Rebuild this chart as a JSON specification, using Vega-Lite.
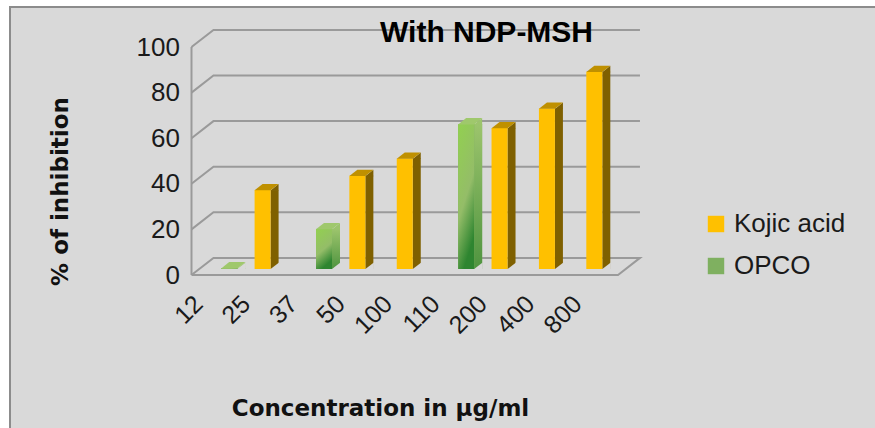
{"$schema":"https://vega.github.io/schema/vega-lite/v6.json","width":868,"height":424,"autosize":"none","padding":{"left":10,"top":7,"right":0,"bottom":0},"background":"#ffffff",
"config":{"font":"Liberation Sans","view":{"fill":"#d9d9d9","stroke":"#8c8c8c","strokeWidth":2}},
"title":{"text":"With NDP-MSH","anchor":"start","frame":"group","offset":-41,"dx":370,"fontSize":30,"fontWeight":"bold","color":"#000000","font":"Liberation Sans"},
"datasets":{
"frame":[
{"id":"g0","px":0,"py":0,"idx":0},{"id":"g0","px":5.15,"py":7.5,"idx":1},{"id":"g0","px":105.15,"py":7.5,"idx":2},{"id":"g0","px":100,"py":0,"idx":3},{"id":"g0","px":0,"py":0,"idx":4},
{"id":"g20","px":0,"py":20,"idx":0},{"id":"g20","px":5.15,"py":27.5,"idx":1},{"id":"g20","px":105.15,"py":27.5,"idx":2},
{"id":"g40","px":0,"py":40,"idx":0},{"id":"g40","px":5.15,"py":47.5,"idx":1},{"id":"g40","px":105.15,"py":47.5,"idx":2},
{"id":"g60","px":0,"py":60,"idx":0},{"id":"g60","px":5.15,"py":67.5,"idx":1},{"id":"g60","px":105.15,"py":67.5,"idx":2},
{"id":"g80","px":0,"py":80,"idx":0},{"id":"g80","px":5.15,"py":87.5,"idx":1},{"id":"g80","px":105.15,"py":87.5,"idx":2},
{"id":"g100","px":0,"py":100,"idx":0},{"id":"g100","px":5.15,"py":107.5,"idx":1},{"id":"g100","px":105.15,"py":107.5,"idx":2},
{"id":"axis","px":0,"py":0,"idx":0},{"id":"axis","px":0,"py":100,"idx":1}],
"bars":[
{"conc":"12","series":"OPCO","value":0.4},
{"conc":"25","series":"Kojic acid","value":34.7},
{"conc":"37","series":"OPCO","value":17.6},
{"conc":"50","series":"Kojic acid","value":41},
{"conc":"100","series":"Kojic acid","value":48.6},
{"conc":"110","series":"OPCO","value":63.7},
{"conc":"200","series":"Kojic acid","value":62},
{"conc":"400","series":"Kojic acid","value":70.6},
{"conc":"800","series":"Kojic acid","value":86.7}]},
"layer":[
{"data":{"name":"frame"},"mark":{"type":"line","color":"#9a9a9a","strokeWidth":2},
"encoding":{"x":{"field":"px","type":"quantitative","sort":null,"scale":{"domain":[0,100],"range":[181.5,608],"nice":false,"zero":false},"axis":null},
"y":{"field":"py","type":"quantitative","scale":{"domain":[0,100],"range":[268,40],"nice":false},
"axis":{"orient":"left","offset":-181.5,"values":[0,20,40,60,80,100],"grid":false,"domain":false,"ticks":false,"labelPadding":12,"labelFontSize":26,"labelColor":"#1a1a1a","labelFont":"Liberation Sans","title":"% of inhibition","titleFontSize":23,"titleFontWeight":"bold","titleColor":"#111111","titleFont":"DejaVu Sans","titleX":-131,"titleY":184,"titleAngle":-90,"titleAlign":"center","titleBaseline":"middle"}},
"detail":{"field":"id"},"order":{"field":"idx"}}},
{"data":{"name":"bars"},"mark":{"type":"bar","width":8},
"encoding":{"x":{"field":"conc","type":"nominal","sort":null,"scale":{"domain":["12","25","37","50","100","110","200","400","800"],"range":[181.5,608],"paddingInner":0,"paddingOuter":0},
"axis":{"orient":"bottom","offset":-140,"labelAngle":-45,"labelAlign":"right","labelBaseline":"top","labelOffset":-25,"domain":false,"ticks":false,"labelPadding":0,"labelFontSize":25,"labelColor":"#1a1a1a","labelFont":"Liberation Sans","title":"Concentration in µg/ml","titleFontSize":23,"titleFontWeight":"bold","titleColor":"#111111","titleFont":"DejaVu Sans","titleX":370,"titleY":117,"titleAlign":"center","titleBaseline":"middle"}},
"xOffset":{"field":"series","type":"nominal","scale":{"type":"point","padding":0,"domain":["Kojic acid","OPCO"],"range":[35.7,49.7]}},
"y":{"field":"value","type":"quantitative","scale":{"domain":[0,100],"range":[262,34.5],"nice":false},"axis":null},
"color":{"field":"series","type":"nominal","legend":null,"scale":{"domain":["Kojic acid","OPCO"],"range":["#7f6000","#7fb060"]}}}},
{"data":{"name":"bars"},"mark":{"type":"point","filled":true,"opacity":1,"size":4,"strokeWidth":0,"shape":"M8,0.5L16,-6L16,0.5Z"},
"encoding":{"x":{"field":"conc","type":"nominal","sort":null,"scale":{"domain":["12","25","37","50","100","110","200","400","800"],"range":[181.5,608],"paddingInner":0,"paddingOuter":0},"axis":null},
"xOffset":{"field":"series","type":"nominal","scale":{"type":"point","padding":0,"domain":["Kojic acid","OPCO"],"range":[23.7,37.7]}},
"y":{"field":"value","type":"quantitative","scale":{"domain":[0,100],"range":[262,34.5],"nice":false},"axis":null},
"color":{"field":"series","type":"nominal","legend":null,"scale":{"domain":["Kojic acid","OPCO"],"range":["#7f6000","#9cc46c"]}}}},
{"data":{"name":"bars"},"transform":[{"filter":"datum.series==='OPCO'"}],"mark":{"type":"bar","width":8,"color":{"gradient":"linear","x1":0,"y1":0,"x2":0,"y2":1,"stops":[{"offset":0,"color":"#9cc46c"},{"offset":1,"color":"#4f9440"}]}},
"encoding":{"x":{"field":"conc","type":"nominal","sort":null,"scale":{"domain":["12","25","37","50","100","110","200","400","800"],"range":[181.5,608],"paddingInner":0,"paddingOuter":0},"axis":null},
"xOffset":{"field":"series","type":"nominal","scale":{"type":"point","padding":0,"domain":["Kojic acid","OPCO"],"range":[35.7,49.7]}},
"y":{"field":"value","type":"quantitative","scale":{"domain":[0,100],"range":[262,34.5],"nice":false},"axis":null}}},
{"data":{"name":"bars"},"mark":{"type":"point","filled":true,"opacity":1,"size":4,"strokeWidth":0,"color":"#d9d9d9","shape":"M8,0L16.5,-6.4L16.5,1L8,1Z"},
"encoding":{"x":{"field":"conc","type":"nominal","sort":null,"scale":{"domain":["12","25","37","50","100","110","200","400","800"],"range":[181.5,608],"paddingInner":0,"paddingOuter":0},"axis":null},
"xOffset":{"field":"series","type":"nominal","scale":{"type":"point","padding":0,"domain":["Kojic acid","OPCO"],"range":[23.7,37.7]}},
"y":{"datum":0,"type":"quantitative","scale":{"domain":[0,100],"range":[262,34.5],"nice":false},"axis":null}}},
{"data":{"name":"bars"},"mark":{"type":"bar","width":16},
"encoding":{"x":{"field":"conc","type":"nominal","sort":null,"scale":{"domain":["12","25","37","50","100","110","200","400","800"],"range":[181.5,608],"paddingInner":0,"paddingOuter":0},"axis":null},
"xOffset":{"field":"series","type":"nominal","scale":{"type":"point","padding":0,"domain":["Kojic acid","OPCO"],"range":[23.7,37.7]}},
"y":{"field":"value","type":"quantitative","scale":{"domain":[0,100],"range":[262,34.5],"nice":false},"axis":null},
"color":{"field":"series","type":"nominal","scale":{"domain":["Kojic acid","OPCO"],"range":["#FFC000","#7fb060"]},
"legend":{"orient":"none","legendX":693,"legendY":204,"title":null,"symbolType":"square","symbolSize":270,"symbolStrokeWidth":0,"labelFontSize":26,"labelColor":"#1a1a1a","labelFont":"Liberation Sans","rowPadding":16,"labelOffset":5}}}},
{"data":{"name":"bars"},"transform":[{"filter":"datum.series==='OPCO'"}],"mark":{"type":"bar","width":16,"color":{"gradient":"linear","x1":0,"y1":0,"x2":0.35,"y2":1,"stops":[{"offset":0,"color":"#92D050"},{"offset":0.6,"color":"#94bd68"},{"offset":1,"color":"#2e8530"}]}},
"encoding":{"x":{"field":"conc","type":"nominal","sort":null,"scale":{"domain":["12","25","37","50","100","110","200","400","800"],"range":[181.5,608],"paddingInner":0,"paddingOuter":0},"axis":null},
"xOffset":{"field":"series","type":"nominal","scale":{"type":"point","padding":0,"domain":["Kojic acid","OPCO"],"range":[23.7,37.7]}},
"y":{"field":"value","type":"quantitative","scale":{"domain":[0,100],"range":[262,34.5],"nice":false},"axis":null}}},
{"data":{"name":"bars"},"mark":{"type":"point","filled":true,"opacity":1,"size":4,"strokeWidth":0,"shape":"M-8,0.3L8,0.3L16,-6L0,-6Z"},
"encoding":{"x":{"field":"conc","type":"nominal","sort":null,"scale":{"domain":["12","25","37","50","100","110","200","400","800"],"range":[181.5,608],"paddingInner":0,"paddingOuter":0},"axis":null},
"xOffset":{"field":"series","type":"nominal","scale":{"type":"point","padding":0,"domain":["Kojic acid","OPCO"],"range":[23.7,37.7]}},
"y":{"field":"value","type":"quantitative","scale":{"domain":[0,100],"range":[262,34.5],"nice":false},"axis":null},
"color":{"field":"series","type":"nominal","legend":null,"scale":{"domain":["Kojic acid","OPCO"],"range":["#bf9000","#9fc86c"]}}}}
],
"resolve":{"scale":{"x":"independent","y":"independent","xOffset":"independent","color":"independent"},"axis":{"x":"independent","y":"independent"}}}
